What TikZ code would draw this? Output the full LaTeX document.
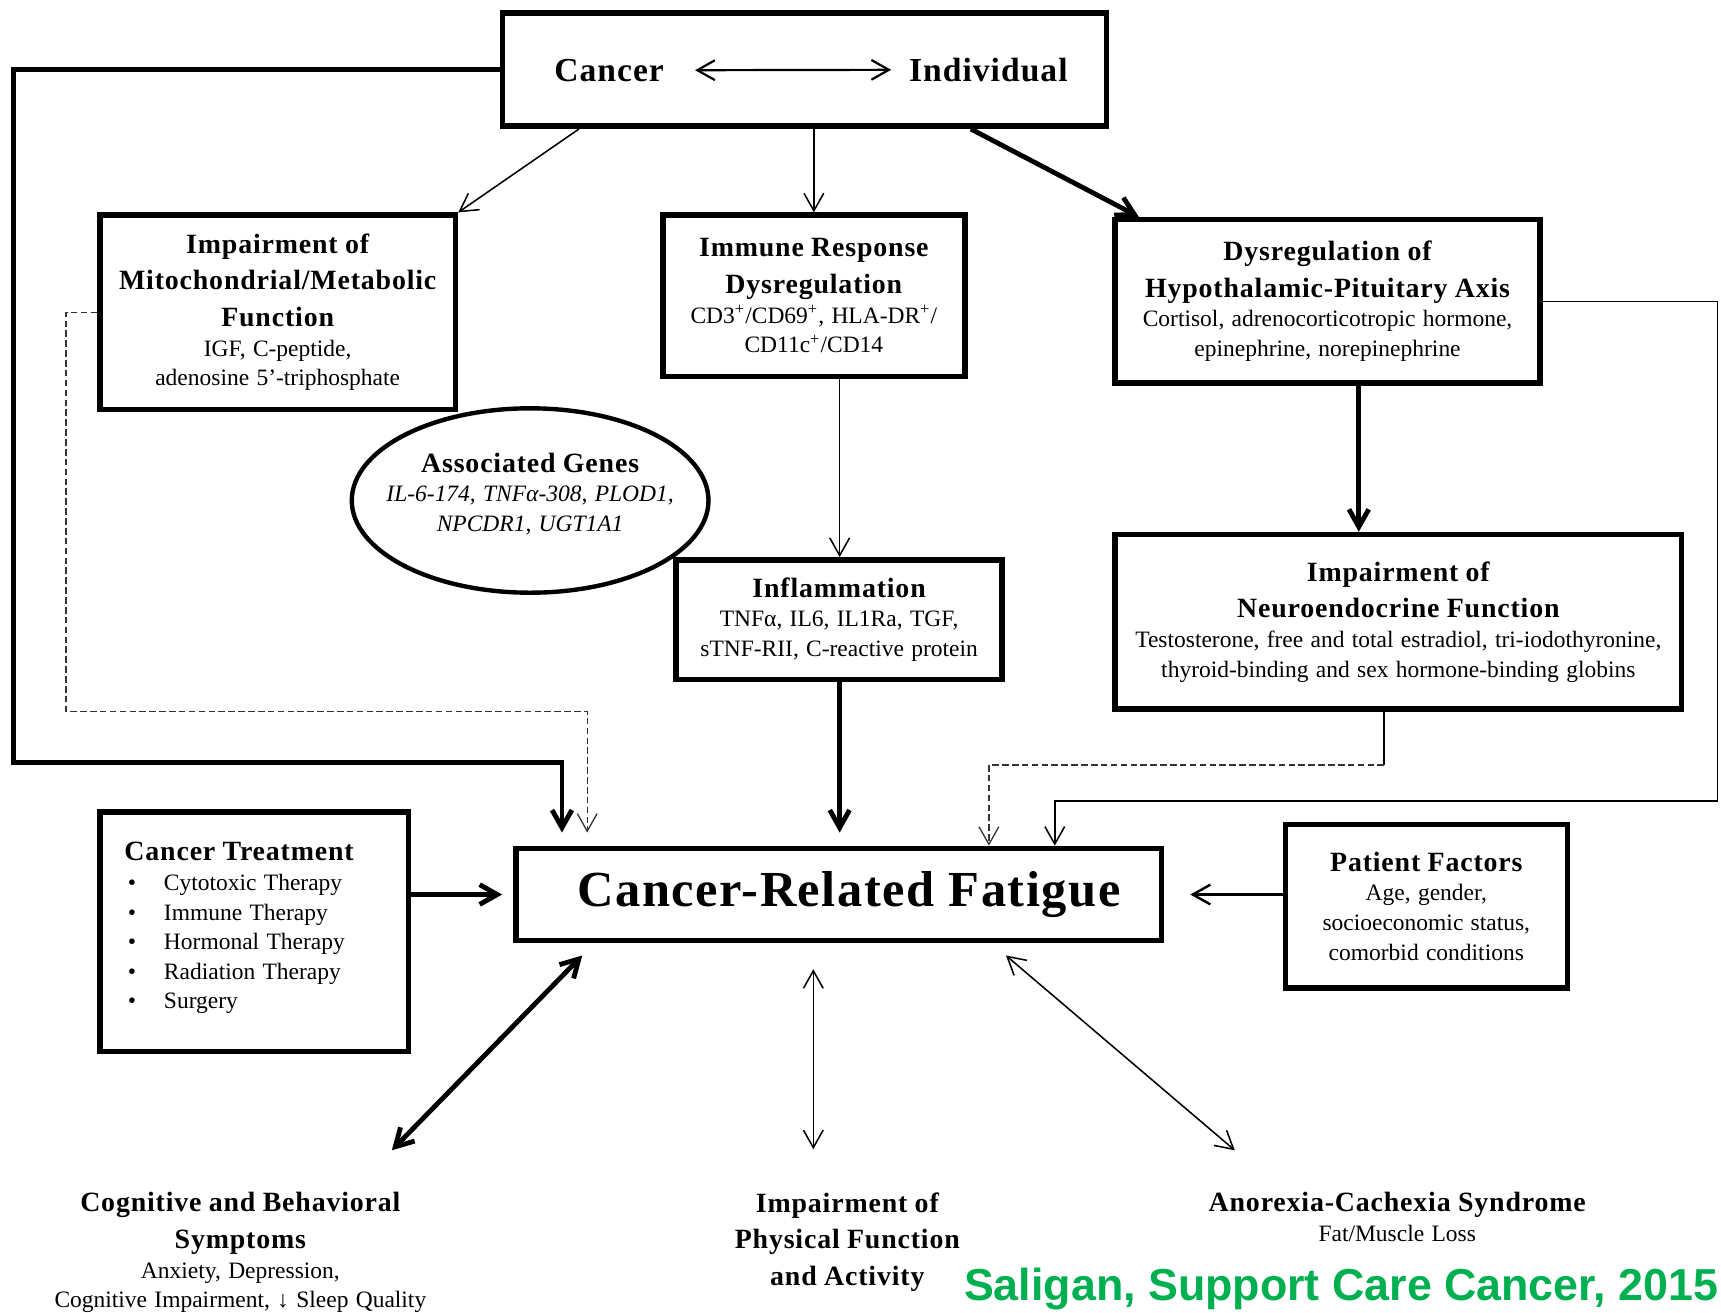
\documentclass[tikz,border=0pt]{standalone}
\usepackage{fontspec}
\setmainfont{Liberation Serif}
\newfontfamily\hdfont{Liberation Serif}[LetterSpace=3]
\newfontfamily\citefont{Liberation Sans}
\usetikzlibrary{arrows.meta,shapes.geometric}
\definecolor{citegreen}{RGB}{0,176,80}
\newcommand\hdsz{\hdfont\bfseries\fontsize{12.7pt}{16.75pt}\selectfont}
\newcommand\bdsz{\normalfont\fontsize{10.7pt}{13.5pt}\selectfont}
\newcommand\topsz{\hdfont\bfseries\fontsize{15.3pt}{18pt}\selectfont}
\newcommand\bul{\makebox[18pt][l]{\hspace{1.5pt}\textbullet}}
\tikzset{
  box/.style={draw, line width=2.5pt, fill=white, inner sep=0pt, align=center},
  thinline/.style={line width=0.7pt},
  medline/.style={line width=1.1pt},
  thickline/.style={line width=2.2pt},
  barb/.style={-{Straight Barb[length=8pt,width=9pt]}},
  barbs/.style={{Straight Barb[length=8pt,width=9pt]}-{Straight Barb[length=8pt,width=9pt]}},
  dashline/.style={line width=0.6pt, dash pattern=on 3pt off 1.5pt, black!80},
  plain/.style={inner sep=0pt, align=center}
}
\begin{document}
\begin{tikzpicture}[x=0.5pt,y=-0.5pt]
\useasboundingbox (0,0) rectangle (1568,1196);

% top box
\node[box, minimum width=275pt, minimum height=51.5pt] (top) at (733,63.5) {};
\node[font=\topsz, inner sep=0pt, anchor=base] (cancer) at (555,74) {Cancer};
\node[font=\topsz, inner sep=0pt, anchor=base] (indiv) at (900.5,74) {Individual};
\draw[line width=1pt, barbs, shorten <=14pt, shorten >=8pt] (cancer.east) -- (indiv.west);

% second row
\node[box, minimum width=162pt, minimum height=88.5pt, text width=158pt] (mito) at (253,284.5)
  {\hdsz Impairment of\\Mitochondrial/Metabolic\\Function\par\bdsz IGF, C-peptide,\\adenosine 5’-triphosphate\par};
\node[box, minimum width=137.5pt, minimum height=73.5pt, text width=133pt] (immune) at (741.5,269.5)
  {\hdsz Immune Response\\Dysregulation\par\bdsz CD3\textsuperscript{+}/CD69\textsuperscript{+}, HLA-DR\textsuperscript{+}/\\CD11c\textsuperscript{+}/CD14\par};
\node[box, minimum width=193.5pt, minimum height=74.5pt, text width=189pt] (hpa) at (1209.5,274.5)
  {\hdsz Dysregulation of\\Hypothalamic-Pituitary Axis\par\bdsz Cortisol, adrenocorticotropic hormone,\\epinephrine, norepinephrine\par};

% ellipse
\node[draw, ellipse, line width=2pt, fill=white, inner sep=0pt, minimum width=162.5pt, minimum height=84pt] (genes) at (483,456) {};
\node[plain, text width=150pt] (genestxt) at (483,450)
  {\hdsz Associated Genes\par\bdsz\itshape IL-6-174, TNFα-308, PLOD1,\\NPCDR1, UGT1A1\par};

% third row
\node[box, minimum width=148.5pt, minimum height=54.5pt, text width=144pt] (infl) at (764.5,564.5)
  {\hdsz Inflammation\par\bdsz TNFα, IL6, IL1Ra, TGF,\\sTNF-RII, C-reactive protein\par};
\node[box, minimum width=258pt, minimum height=79.5pt, text width=254pt] (neuro) at (1274,566.5)
  {\hdsz Impairment of\\Neuroendocrine Function\par\bdsz Testosterone, free and total estradiol, tri-iodothyronine,\\thyroid-binding and sex hormone-binding globins\par};

% central row
\node[box, minimum width=140.5pt, minimum height=109pt] (treat) at (231.5,849) {};
\node[inner sep=0pt, anchor=north west, text width=125pt, align=left] (treattxt) at (113,767)
  {\hdsz Cancer Treatment\par\bdsz\bul Cytotoxic Therapy\\\bul Immune Therapy\\\bul Hormonal Therapy\\\bul Radiation Therapy\\\bul Surgery\par};
\node[box, minimum width=294pt, minimum height=42pt] (crf) at (764,815)
  {\hspace*{9.5pt}\hdfont\bfseries\fontsize{23pt}{27pt}\selectfont Cancer-Related Fatigue};
\node[box, minimum width=128.5pt, minimum height=74.5pt, text width=124pt] (patient) at (1299.5,825.5)
  {\hdsz Patient Factors\par\bdsz Age, gender,\\socioeconomic status,\\comorbid conditions\par};

% bottom texts
\node[plain, anchor=north, text width=200pt] (cog) at (219,1086)
  {\hdsz Cognitive and Behavioral\\Symptoms\par\bdsz Anxiety, Depression,\\Cognitive Impairment, ↓ Sleep Quality\par};
\node[plain, anchor=north, text width=140pt] (phys) at (772,1086)
  {\hdsz Impairment of\\Physical Function\\and Activity\par};
\node[plain, anchor=north, text width=200pt] (anor) at (1273,1086)
  {\hdsz Anorexia-Cachexia Syndrome\par\bdsz Fat/Muscle Loss\par};
\node[inner sep=0pt, anchor=base west, text=citegreen, font=\citefont\bfseries\fontsize{20.4pt}{24pt}\selectfont] (cite) at (878,1185)
  {Saligan, Support Care Cancer, 2015};

% coordinates
\coordinate (lcorner) at (12,695);
\coordinate (lin) at (512,695);
\coordinate (dcorner) at (60,648);
\coordinate (din) at (535,648);
\coordinate (hx) at (1238,0);
\coordinate (rcorner) at (1565,730);
\coordinate (rin) at (961,730);
\coordinate (nx) at (1261,697);
\coordinate (nin) at (901,697);
\coordinate (ix) at (765,0);
\coordinate (cogend) at (357,1048);
\coordinate (physstart) at (741,883);
\coordinate (physend) at (741,1047);
\coordinate (anorend) at (1125,1048);

% connectors from top
\draw[thickline, barb, shorten >=6pt] (top.west) -| (lcorner) -- (lin) -- (lin |- crf.north);
\draw[thinline, barb] ([xshift=36pt]top.south west) -- (mito.north east);
\draw[thinline, barb] (immune.north |- top.south) -- (immune.north);
\draw[thickline, barb] ([xshift=-63pt]top.south east) -- ([xshift=12pt]hpa.north west);

% mito dashed
\draw[dashline, barb] (mito.west) -| (dcorner) -- (din) -- ([yshift=6pt]din |- crf.north);

% immune -> inflammation -> crf
\draw[thinline, barb] (ix |- immune.south) -- (ix |- infl.north);
\draw[thickline, barb, shorten >=6pt] (infl.south -| ix) -- (ix |- crf.north);

% hpa -> neuro
\draw[thickline, barb] (hx |- hpa.south) -- (hx |- neuro.north);
\draw[thinline, barb] (hpa.east) -| (rcorner) -- (rin) -- (rin |- crf.north);

% neuro dashed
\draw[thinline] (nx |- neuro.south) -- (nx);
\draw[dashline, barb] (nx) -- (nin) -- (nin |- crf.north);

% sides
\draw[thickline, barb, shorten >=5pt] (treat.east |- crf.west) -- (crf.west);
\draw[medline, barb, shorten >=12pt] (patient.west |- crf.east) -- (crf.east);

% bottom double arrows
\draw[thickline, barbs] ([xshift=31.5pt,yshift=-5.5pt]crf.south west) -- (cogend);
\draw[thinline, barbs] (physstart) -- (physend);
\draw[thinline, barbs] ([xshift=-72pt,yshift=-5.5pt]crf.south east) -- (anorend);
\end{tikzpicture}
\end{document}
